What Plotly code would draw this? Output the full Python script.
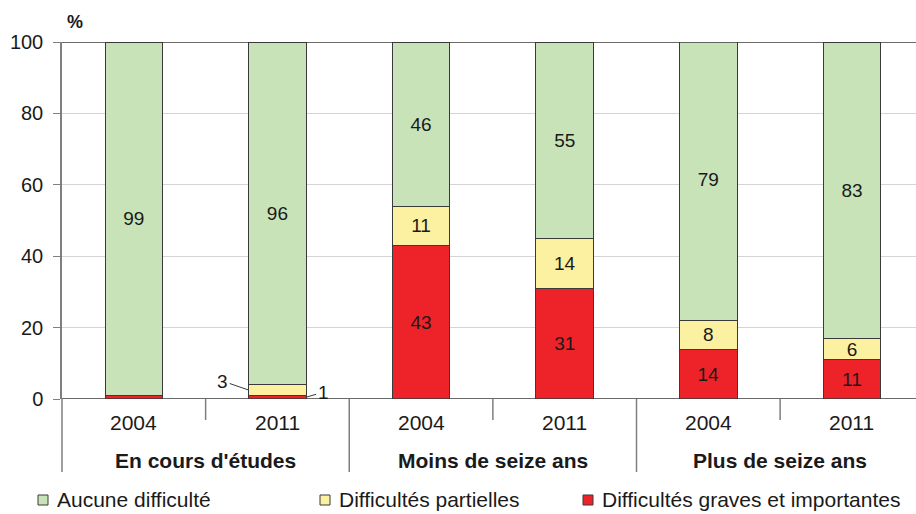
import plotly.graph_objects as go

groups = ["En cours d'études", "Moins de seize ans", "Plus de seize ans"]
years = ["2004", "2011", "2004", "2011", "2004", "2011"]
graves = [1, 1, 43, 31, 14, 11]
partielles = [0, 3, 11, 14, 8, 6]
aucune = [99, 96, 46, 55, 79, 83]
series_names = ["Aucune difficulté", "Difficultés partielles", "Difficultés graves et importantes"]
y_ticks = [0, 20, 40, 60, 80, 100]

C_GREEN = "#c9e3b9"
C_YELLOW = "#fcf1a0"
C_RED = "#ee2229"
EDGE = "#3a3a3a"
GRAY = "#7f7f7f"
FONT = "Liberation Sans, Arial, sans-serif"

W, H = 916, 514
ML, MR, MT, MB = 62, 0, 42, 115
PW = W - ML - MR
PH = H - MT - MB

x = list(range(len(years)))
BW = 0.40
XR = [-0.5, 5.446]

def xpaper(v):
    return (v - XR[0]) / (XR[1] - XR[0])

def lab(vals, minv):
    return [str(v) if v >= minv else "" for v in vals]

fig = go.Figure()
for vals, col, name, minv in [(graves, C_RED, series_names[2], 4),
                              (partielles, C_YELLOW, series_names[1], 4),
                              (aucune, C_GREEN, series_names[0], 4)]:
    fig.add_trace(go.Bar(
        x=x, y=vals, name=name, width=BW,
        marker=dict(color=col, line=dict(color=EDGE, width=1)),
        text=lab(vals, minv), textposition="inside", insidetextanchor="middle",
        textangle=0, constraintext="none",
        textfont=dict(family=FONT, size=19, color="#1a1a1a"),
        showlegend=False, hoverinfo="skip"))

fig.update_layout(
    barmode="stack", width=W, height=H,
    margin=dict(l=ML, r=MR, t=MT, b=MB, autoexpand=False),
    paper_bgcolor="white", plot_bgcolor="white",
    font=dict(family=FONT, size=19, color="#1a1a1a"),
)
fig.update_xaxes(range=XR, showticklabels=False, showgrid=False,
                 zeroline=False, showline=False, ticks="", automargin=False)
fig.update_yaxes(range=[0, 100], tickvals=y_ticks, ticks="outside", ticklen=7,
                 tickcolor=GRAY, tickwidth=1.2, showgrid=True, gridcolor="#d4d4d4",
                 gridwidth=1, zeroline=False, ticklabelstandoff=6,
                 showline=True, linecolor=GRAY, linewidth=1.5, automargin=False,
                 tickfont=dict(family=FONT, size=20, color="#1a1a1a"))

shapes = []
for yv in (0, 100):
    shapes.append(dict(type="line", xref="paper", yref="y", x0=0, x1=1, y0=yv, y1=yv,
                       line=dict(color="#3a3a3a", width=1.5)))
for i in range(len(years)):
    xb = xpaper(i - 0.5)
    long_div = (i % 2 == 0)
    y1 = -(472 - 399) / PH if long_div else -(420 - 399) / PH
    shapes.append(dict(type="line", xref="paper", yref="paper", x0=xb, x1=xb, y0=0, y1=y1,
                       line=dict(color=GRAY, width=1.5)))

annotations = []
for i, yr in enumerate(years):
    annotations.append(dict(x=i, y=0, xref="x", yref="y", text=yr, showarrow=False,
                            yanchor="middle", yshift=-23,
                            font=dict(family=FONT, size=21, color="#1a1a1a")))
for g, name in enumerate(groups):
    annotations.append(dict(x=2 * g + 0.5, y=0, xref="x", yref="y", text="<b>%s</b>" % name,
                            showarrow=False, yanchor="middle", yshift=-61,
                            font=dict(family=FONT, size=21, color="#1a1a1a")))

annotations.append(dict(x=1 - BW / 2, y=graves[1] + partielles[1] / 2, xref="x", yref="y",
                        text=str(partielles[1]), showarrow=True, arrowhead=0, arrowwidth=1,
                        arrowcolor="#3a3a3a", ax=-26, ay=-9, standoff=0,
                        font=dict(family=FONT, size=19, color="#1a1a1a")))
annotations.append(dict(x=1 + BW / 2, y=graves[1] / 2, xref="x", yref="y",
                        text=str(graves[1]), showarrow=True, arrowhead=0, arrowwidth=1,
                        arrowcolor="#3a3a3a", ax=17, ay=-5, standoff=0,
                        font=dict(family=FONT, size=19, color="#1a1a1a")))

annotations.append(dict(x=(75 - ML) / PW, y=(399 - 22) / PH, xref="paper", yref="paper",
                        yanchor="middle", xanchor="center", text="<b>%</b>", showarrow=False,
                        font=dict(family=FONT, size=18, color="#1a1a1a")))

leg_items = [(series_names[0], C_GREEN, 38), (series_names[1], C_YELLOW, 320), (series_names[2], C_RED, 583)]
ly = 500
for name, col, px in leg_items:
    x0 = (px - ML) / PW
    x1 = (px + 10 - ML) / PW
    y0 = (399 - (ly - 5)) / PH
    y1 = (399 - (ly + 5)) / PH
    shapes.append(dict(type="rect", xref="paper", yref="paper", x0=x0, x1=x1, y0=y1, y1=y0,
                       fillcolor=col, line=dict(color="#3a3a3a", width=1)))
    annotations.append(dict(x=(px + 17 - ML) / PW, y=(399 - ly) / PH, xref="paper", yref="paper",
                            xanchor="left", yanchor="middle", text=name, showarrow=False,
                            font=dict(family=FONT, size=21, color="#1a1a1a")))

fig.update_layout(shapes=shapes, annotations=annotations)
fig.write_html("out.html", config={"displayModeBar": False},
               post_script="document.body.style.margin='0';document.body.style.overflow='hidden';")
